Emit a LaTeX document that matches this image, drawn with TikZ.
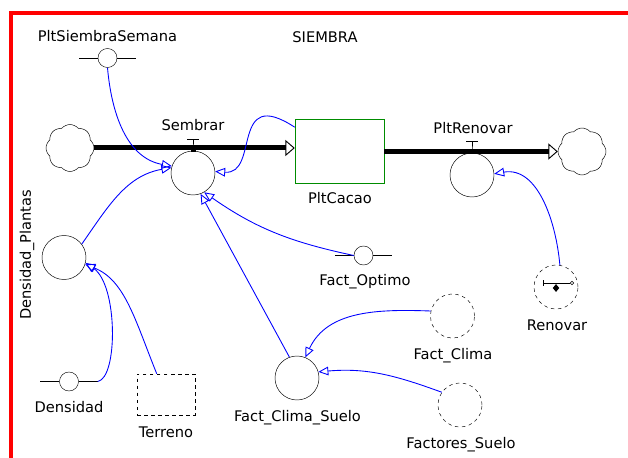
\documentclass[tikz,border=0pt]{standalone}
\usepackage{fontspec}
\setmainfont{DejaVu Sans}
\usetikzlibrary{shapes.symbols, shapes.geometric, arrows.meta, positioning}
\tikzstyle{aux}   = [draw, circle, minimum size=1.32cm, inner sep=0pt]
\tikzstyle{daux}  = [aux, dash pattern=on 3pt off 3pt]
\tikzstyle{ghost} = [draw, circle, minimum size=0.57cm, inner sep=0pt]
\tikzstyle{stock} = [draw=green!55!black, minimum width=2.67cm, minimum height=1.92cm]
\tikzstyle{cloudy}= [draw, cloud, cloud puffs=8, cloud puff arc=100, aspect=1,
                     minimum width=1.44cm, minimum height=1.41cm, inner sep=0pt]
\tikzstyle{flow}  = [line width=0.15cm, -{Triangle[open, line width=0.8pt, length=0.28cm, width=0.48cm]}]
\tikzstyle{link}  = [draw=blue, line width=0.75pt, -{Triangle[open, length=0.3cm, width=0.26cm]}]
\tikzstyle{lbl}   = [anchor=base, font=\fontsize{12.5}{14}\selectfont, inner sep=0pt]

\begin{document}
\begin{tikzpicture}[x=0.03cm, y=-0.03cm]
\useasboundingbox (0,0) rectangle (628,458);

% frame
\draw [red, line width=0.12cm] (11,458) -- (11,13) -- (628,13);

% nodes
\node [cloudy] at (70,148)      (src)     {};
\node [stock]  at (339.5,151)   (cacao)   {};
\node [cloudy] at (582,151.5)   (sink)    {};
\node [aux]    at (193,173)     (sembrar) {};
\node [aux]    at (472,175)     (renov)   {};
\node [aux]    at (64,257.5)    (densPl)  {};
\node [aux]    at (297,378)     (fcs)     {};
\node [ghost]  at (107.5,58)    (pss)     {};
\node [ghost]  at (69,381.5)    (dens)    {};
\node [ghost]  at (363.5,255.5) (fopt)    {};
\node [draw, dash pattern=on 3pt off 3pt, minimum width=1.74cm, minimum height=1.23cm]
               at (166,394.5)   (terreno) {};
\node [daux]   at (452.5,316)   (fclima)  {};
\node [daux]   at (460,405)     (fsuelo)  {};
\node [daux]   at (556,287)     (renovar) {};

% ghost bars
\foreach \g in {pss, dens, fopt}
  \draw (\g.west) -- ++(-19,0) coordinate (\g-l) (\g.east) -- ++(19,0) coordinate (\g-r);

% labels
\node [lbl] at (107.5,42) (pssL)     {PltSiembraSemana};
\node [lbl] at (325,43)   (title)    {SIEMBRA};
\node [lbl] at (193,131)  (sembrarL) {Sembrar};
\node [lbl] at (340,204)  (cacaoL)   {PltCacao};
\node [lbl] at (473,134)  (renovL)   {PltRenovar};
\node [lbl, anchor=center, rotate=90] at (27,255) (densPlL) {Densidad\_Plantas};
\node [lbl] at (69,412)   (densL)    {Densidad};
\node [lbl] at (166,437)  (terrenoL) {Terreno};
\node [lbl] at (297.5,421)(fcsL)     {Fact\_Clima\_Suelo};
\node [lbl] at (365,285)  (foptL)    {Fact\_Optimo};
\node [lbl] at (453,359)  (fclimaL)  {Fact\_Clima};
\node [lbl] at (461,448)  (fsueloL)  {Factores\_Suelo};
\node [lbl] at (557,330)  (renovarL) {Renovar};

% flows and valves
\draw [flow] (src.east) -- (src.east -| cacao.west);
\draw [flow] (cacao.east |- sink.west) -- (sink.west);
\foreach \v/\y in {sembrar/149, renov/151.5} {
  \draw (\v.north) -- (\v.north |- 0,\y) -- ++(0,-10);
  \draw (\v.north |- 0,\y) ++(-6,-10) -- ++(12,0);
  \fill (\v.north |- 0,\y) ++(-2.5,0) rectangle ++(5,3);
}

% renovar symbol
\draw (543,280) -- (543,286) (543,283) -- (570,283);
\draw (572,283) circle (1.8);
\node [fill, diamond, inner sep=0pt, minimum width=0.2cm, minimum height=0.24cm] at (556,288) (renovarD) {};

% links
\path [link] (pss.south) to[out=-85, in=170] (sembrar.162);
\path [link] (densPl.37) to[out=55, in=190] (sembrar.166);
\path [link] (cacao.152) .. controls (230,85) and (260,175) .. (sembrar.4);
\path [link] (fopt.west) to[out=168, in=-35] (sembrar.-60);
\path [link] (fcs.110) -- (sembrar.-70);
\path [link] (dens-r) .. controls (118,378) and (118,285) .. (densPl.-14);
\path [link] (terreno.north west) ++(20,0) .. controls (135,320) and (125,280) .. (densPl.-18);
\path [link] (fclima.167) to[out=178, in=65] (fcs.68);
\path [link] (fsuelo.145) to[out=160, in=5] (fcs.16);
\path [link] (renovar.80) to[out=95, in=10] (renov.3);

\end{tikzpicture}
\end{document}
